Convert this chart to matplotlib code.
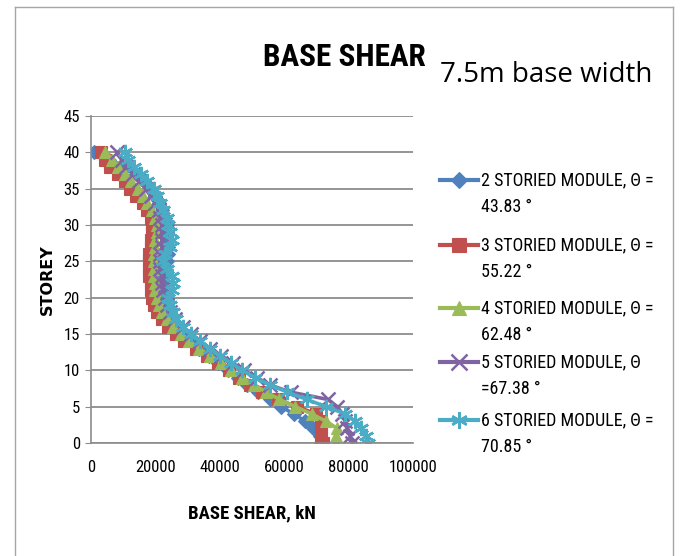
import matplotlib
matplotlib.use("Agg")
import matplotlib.pyplot as plt
from matplotlib.lines import Line2D
from matplotlib import font_manager as fm

storeys = list(range(0, 41))

shear_2 = [71500, 71000, 69000, 66500, 63000, 59000, 55500, 52000, 48500, 45500,
           42500, 39500, 36500, 33500, 31000, 28500, 26500, 25000, 24000, 23500,
           23000, 23000, 22500, 22500, 23000, 23500, 24000, 24000, 24000, 23500,
           23500, 23000, 22000, 21000, 20000, 18500, 16500, 14000, 11000, 5500, 1000]
shear_3 = [72000, 71500, 71500, 71500, 70000, 64000, 58000, 53000, 49500, 46000,
           43000, 39500, 36000, 32500, 29000, 26500, 24000, 22000, 20500, 19500,
           19000, 18500, 18500, 18000, 18000, 18000, 18000, 18500, 18500, 19000,
           19000, 18500, 17500, 16000, 14000, 12000, 10500, 8500, 6000, 4500, 3000]
shear_4 = [76000, 76000, 76500, 73000, 68500, 63500, 58500, 54500, 50500, 47000,
           43500, 40500, 37000, 33500, 30500, 28000, 25500, 23500, 22000, 21000,
           20500, 20000, 20000, 19500, 19500, 19500, 19500, 20000, 20000, 20500,
           20500, 20000, 19000, 17500, 16000, 14500, 12500, 10500, 8500, 6500, 4500]
shear_5 = [81000, 80500, 79500, 79000, 78000, 76500, 73500, 62000, 55500, 51500,
           47500, 44000, 40500, 37000, 34000, 31000, 28500, 26000, 24500, 23500,
           23000, 22500, 22000, 22000, 21500, 21500, 21500, 22000, 22000, 22000,
           22000, 21500, 21000, 20000, 18500, 17000, 15000, 13000, 11000, 9500, 8000]
shear_6 = [86000, 85500, 84000, 82000, 79000, 73000, 67000, 61000, 55500, 51000,
           47000, 43500, 40000, 37000, 34000, 31000, 28500, 26500, 25500, 24500,
           24000, 25000, 25500, 25000, 23500, 22500, 23000, 24500, 25000, 24500,
           24000, 23500, 22500, 21500, 20500, 19500, 17500, 15500, 13500, 11500, 10500]

labels = ["2 STORIED MODULE, \u0398 =\n43.83 \u00b0",
          "3 STORIED MODULE, \u0398 =\n55.22 \u00b0",
          "4 STORIED MODULE, \u0398 =\n62.48 \u00b0",
          "5 STORIED MODULE, \u0398\n=67.38 \u00b0",
          "6 STORIED MODULE, \u0398 =\n70.85 \u00b0"]
x_ticks = [0, 20000, 40000, 60000, 80000, 100000]
y_ticks = [0, 5, 10, 15, 20, 25, 30, 35, 40, 45]

series = [shear_2, shear_3, shear_4, shear_5, shear_6]
colors = ["#4F81BD", "#C0504D", "#9BBB59", "#8064A2", "#4BACC6"]
markers = ["D", "s", "^", "x", (6, 2, 0)]
msizes = [7, 9, 9, 10, 11]

# pick a condensed font, preferring a regular-weight face
entries = fm.fontManager.ttflist
def has_regular(name):
    for f in entries:
        if f.name == name and f.weight in (400, "normal", "regular", "book", "medium", 500):
            return True
    return False

narrow = None
cands = ["Open Sans Condensed", "Liberation Sans Narrow", "DejaVu Sans Condensed",
         "Roboto Condensed", "Noto Sans Condensed"]
for cand in cands:
    if has_regular(cand):
        narrow = cand
        break
if narrow is None:
    for cand in cands:
        if any(f.name == cand for f in entries):
            narrow = cand
            break
if narrow is None:
    narrow = "DejaVu Sans"
cond = [narrow, "DejaVu Sans"]

fig = plt.figure(figsize=(6.8, 5.56), dpi=100)
W, H = 680, 556

def fx(px):
    return px / W

def fy(py):
    return 1 - py / H

ax = fig.add_axes([fx(91), fy(443), fx(413) - fx(91), fy(116) - fy(443)])
for vals, c, m, ms in zip(series, colors, markers, msizes):
    mew = 1.8 if m == "x" or isinstance(m, tuple) else 0.8
    ax.plot(vals, storeys, color=c, lw=2.6, marker=m, ms=ms, mec=c, mfc=c, mew=mew)

ax.set_xlim(0, 100000)
ax.set_ylim(0, 45)
ax.set_xticks(x_ticks)
ax.set_yticks(y_ticks)
ax.set_xticklabels([str(v) for v in x_ticks], fontfamily=cond, fontsize=12)
ax.set_yticklabels([str(v) for v in y_ticks], fontfamily=cond, fontsize=12)
ax.yaxis.grid(True, color="#8c8c8c", lw=1.3)
ax.set_axisbelow(True)
for s in ["top", "right"]:
    ax.spines[s].set_visible(False)
for s in ["left", "bottom"]:
    ax.spines[s].set_color("#8c8c8c")
    ax.spines[s].set_linewidth(1.2)
ax.tick_params(axis="y", length=4, color="#8c8c8c", pad=4)
ax.tick_params(axis="x", length=0, pad=12)

# titles and axis labels
fig.text(fx(344), fy(57), "BASE SHEAR", ha="center", va="center", fontsize=22.5,
         fontweight="bold", family=cond)
fig.text(fx(440), fy(75), "7.5m base width", ha="left", va="center", fontsize=20,
         family=["Open Sans", "DejaVu Sans"])
fig.text(fx(47), fy(280), "STOREY", ha="center", va="center", rotation=90,
         fontsize=11.5, fontweight="bold", family=["DejaVu Sans"])
fig.text(fx(252), fy(513), "BASE SHEAR, kN", ha="center", va="center", fontsize=13.5,
         fontweight="bold", family=cond)

# legend
first_lines = [180, 245, 308, 362, 420]
for lab, c, m, ms, yl in zip(labels, colors, markers, msizes, first_lines):
    mew = 1.8 if m == "x" or isinstance(m, tuple) else 0.8
    fig.add_artist(Line2D([fx(440), fx(478)], [fy(yl), fy(yl)], transform=fig.transFigure,
                          color=c, lw=3))
    fig.add_artist(Line2D([fx(459)], [fy(yl)], transform=fig.transFigure, color=c,
                          marker=m, ms=ms + 1, mec=c, mfc=c, mew=mew, lw=0))
    l1, l2 = lab.split("\n")
    fig.text(fx(481), fy(yl), l1, ha="left", va="center", fontsize=13, family=cond)
    fig.text(fx(481), fy(yl + 27), l2, ha="left", va="center", fontsize=13, family=cond)

# outer frame
frame_c = "#a6a6a6"
fig.add_artist(Line2D([fx(15), fx(15)], [fy(7), 0], transform=fig.transFigure, color=frame_c, lw=1))
fig.add_artist(Line2D([fx(15), fx(673)], [fy(7), fy(7)], transform=fig.transFigure, color=frame_c, lw=1))
fig.add_artist(Line2D([fx(673), fx(673)], [fy(7), 0], transform=fig.transFigure, color=frame_c, lw=1))

fig.savefig("out.png", dpi=100)
